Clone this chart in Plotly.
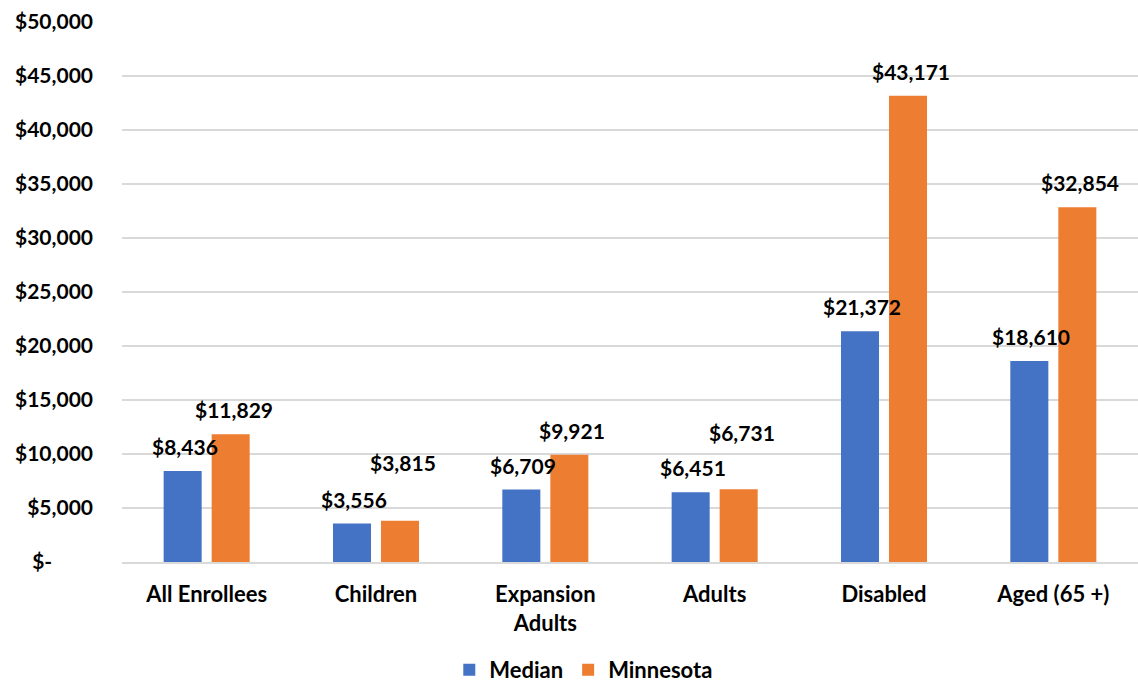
import plotly.graph_objects as go

categories = ["All Enrollees", "Children", "Expansion<br>Adults", "Adults", "Disabled", "Aged (65 +)"]
median_values = [8436, 3556, 6709, 6451, 21372, 18610]
minnesota_values = [11829, 3815, 9921, 6731, 43171, 32854]

tick_vals = [0, 5000, 10000, 15000, 20000, 25000, 30000, 35000, 40000, 45000, 50000]
tick_text = ["$-" + "\u00a0" * 8] + [f"${v:,}" for v in tick_vals[1:]]

BLUE = "#4472C4"
ORANGE = "#ED7D31"
FONT = "Lato"

fig = go.Figure()
fig.add_trace(go.Bar(name="Median", x=categories, y=median_values,
                     marker=dict(color=BLUE, line=dict(width=0))))
fig.add_trace(go.Bar(name="Minnesota", x=categories, y=minnesota_values,
                     marker=dict(color=ORANGE, line=dict(width=0))))

# value labels floated above each bar; the short Minnesota labels are lifted
# further so they clear the neighbouring Median label
half_slot = 24
minnesota_lift = [0, 34, 0, 32, 0, 0]
for cat, val in zip(categories, median_values):
    fig.add_annotation(x=cat, y=val, text=f"${val:,}", showarrow=False,
                       xshift=-half_slot + 2, yshift=10, yanchor="bottom")
for cat, val, lift in zip(categories, minnesota_values, minnesota_lift):
    fig.add_annotation(x=cat, y=val, text=f"${val:,}", showarrow=False,
                       xshift=half_slot + 3, yshift=10 + lift, yanchor="bottom")

label_font = dict(family=FONT, size=21, color="#000000", weight="bold")
cat_font = dict(family=FONT, size=22, color="#000000", weight="bold")
fig.update_annotations(font=label_font)

fig.update_layout(
    width=1138, height=686,
    margin=dict(l=122, r=0, t=22, b=124, autoexpand=False),
    plot_bgcolor="white", paper_bgcolor="white",
    barmode="group", bargap=0.433, bargroupgap=0.208,
    font=label_font,
    showlegend=True,
    legend=dict(orientation="h", xref="container", yref="paper",
                x=0.513, xanchor="center", y=-0.2, yanchor="middle",
                font=cat_font, itemwidth=30, tracegroupgap=0),
)
fig.update_yaxes(range=[0, 50000], tickvals=tick_vals, ticktext=tick_text,
                 showgrid=True, gridcolor="#D9D9D9", gridwidth=1.5,
                 zeroline=False, showline=False, ticks="",
                 ticklabelstandoff=28, tickfont=label_font)
fig.update_xaxes(showgrid=False, showline=True, linecolor="#D9D9D9", linewidth=1.5,
                 ticks="", ticklabelstandoff=12, tickfont=cat_font)

fig.write_html("out.html")
